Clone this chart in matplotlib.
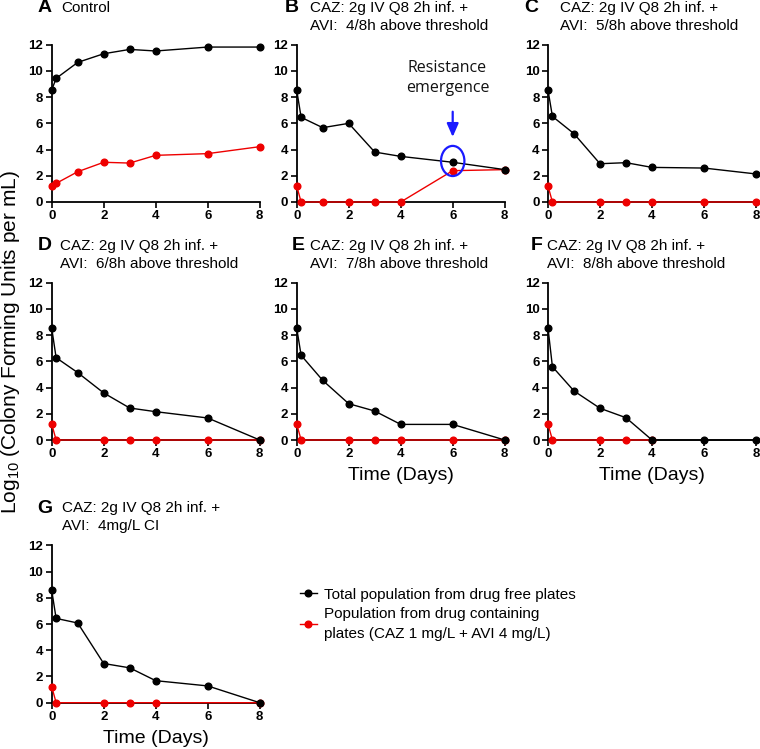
import matplotlib.pyplot as plt
from matplotlib.patches import Ellipse

plt.rcParams['font.family'] = ['Liberation Sans', 'DejaVu Sans']
plt.rcParams['mathtext.fontset'] = 'custom'
plt.rcParams['mathtext.rm'] = 'Liberation Sans'

# sampling times (days)
days = [0, 0.17, 1, 2, 3, 4, 6, 8]

letters = ['A', 'B', 'C', 'D', 'E', 'F', 'G']
titles = [
    'Control',
    'CAZ: 2g IV Q8 2h inf. +\nAVI:  4/8h above threshold',
    'CAZ: 2g IV Q8 2h inf. +\nAVI:  5/8h above threshold',
    'CAZ: 2g IV Q8 2h inf. +\nAVI:  6/8h above threshold',
    'CAZ: 2g IV Q8 2h inf. +\nAVI:  7/8h above threshold',
    'CAZ: 2g IV Q8 2h inf. +\nAVI:  8/8h above threshold',
    'CAZ: 2g IV Q8 2h inf. +\nAVI:  4mg/L CI',
]

# total population (drug free plates), log10 CFU/mL
total_A = [8.54, 9.43, 10.65, 11.31, 11.64, 11.52, 11.82, 11.82]
total_B = [8.54, 6.46, 5.67, 6.0, 3.81, 3.48, 3.03, 2.47]
total_C = [8.54, 6.53, 5.21, 2.92, 3.0, 2.64, 2.59, 2.14]
total_D = [8.54, 6.28, 5.14, 3.59, 2.44, 2.16, 1.68, 0]
total_E = [8.54, 6.46, 4.55, 2.77, 2.21, 1.19, 1.19, 0]
total_F = [8.54, 5.59, 3.74, 2.42, 1.70, 0, 0, 0]
total_G = [8.58, 6.43, 6.08, 2.99, 2.66, 1.68, 1.28, 0]

# resistant population (drug containing plates)
res_days_A = [0, 0.17, 1, 2, 3, 4, 6, 8]
res_A = [1.22, 1.42, 2.31, 3.03, 2.97, 3.56, 3.69, 4.22]
res_days_B = [0, 0.17, 1, 2, 3, 4, 6, 8]
res_B = [1.22, 0, 0, 0, 0, 0, 2.39, 2.47]
res_days_C = [0, 0.17, 2, 3, 4, 6, 8]
res_C = [1.22, 0, 0, 0, 0, 0, 0]
res_days_D = [0, 0.17, 2, 3, 4, 6, 8]
res_D = [1.22, 0, 0, 0, 0, 0, 0]
res_days_E = [0, 0.17, 2, 3, 4, 6, 8]
res_E = [1.22, 0, 0, 0, 0, 0, 0]
res_days_F = [0, 0.17, 2, 3, 4]
res_F = [1.22, 0, 0, 0, 0]
res_days_G = [0, 0.17, 2, 3, 4, 8]
res_G = [1.23, 0, 0, 0, 0, 0]

totals = [total_A, total_B, total_C, total_D, total_E, total_F, total_G]
res_days = [res_days_A, res_days_B, res_days_C, res_days_D, res_days_E, res_days_F, res_days_G]
res_vals = [res_A, res_B, res_C, res_D, res_E, res_F, res_G]

W, H = 760, 749
fig = plt.figure(figsize=(W / 100, H / 100), dpi=100)

# layout in pixels
lefts = [51.7, 296.7, 548, 51.7, 296.7, 548, 51.7]
zeros = [202, 202, 202, 440, 440, 440, 702.7]
ax_w, ax_h = 208, 157.3
letter_right = [52, 299, 538, 52, 305, 543, 52]
text_left = [61, 310, 560, 60, 310, 547, 62]


def fx(px):
    return px / W


def fy(py):
    return 1 - py / H


axes = []
for i in range(7):
    ax = fig.add_axes([fx(lefts[i]), fy(zeros[i]), ax_w / W, ax_h / H])
    axes.append(ax)
    ax.plot(res_days[i], res_vals[i], color='#ee0000', lw=1.0, marker='o',
            ms=4.8, clip_on=False, zorder=3,
            label='Population from drug containing\nplates (CAZ 1 mg/L + AVI 4 mg/L)')
    ax.plot(days, totals[i], color='black', lw=1.0, marker='o',
            ms=4.8, clip_on=False, zorder=4,
            label='Total population from drug free plates')
    ax.set_xlim(0, 8)
    ax.set_ylim(0, 12)
    ax.set_xticks([0, 2, 4, 6, 8])
    ax.set_yticks(range(0, 13, 2))
    for s in ['top', 'right']:
        ax.spines[s].set_visible(False)
    for s in ['left', 'bottom']:
        ax.spines[s].set_linewidth(1.3)
    ax.tick_params(direction='out', length=4, width=1.2, labelsize=9.5, pad=2)
    for lab in ax.get_xticklabels() + ax.get_yticklabels():
        lab.set_fontweight('bold')

    top = zeros[i] - ax_h
    fig.text(fx(letter_right[i]), fy(top - 37), letters[i], ha='right', va='center',
             fontsize=14, fontweight='bold')
    lines = titles[i].split('\n')
    for j, line in enumerate(lines):
        fig.text(fx(text_left[i]), fy(top - 37 + 18 * j), line, ha='left', va='center',
                 fontsize=11)

for i in [4, 5, 6]:
    axes[i].set_xlabel('Time (Days)', fontsize=14, labelpad=5)

# resistance emergence annotation on panel B
axB = axes[1]
axB.annotate('', xy=(6, 4.75), xytext=(6, 7.1),
             arrowprops=dict(arrowstyle='-|>,head_width=0.35,head_length=0.8',
                             color='#1a1aff', lw=1.6))
axB.add_patch(Ellipse((6, 3.13), 0.9, 2.3, fill=False, edgecolor='#1a1aff',
                      lw=1.6, clip_on=False, zorder=5))
axB.text(5.8, 9.45, 'Resistance\nemergence', ha='center', va='center',
         fontsize=11.5, color='#111111', family=['Open Sans', 'DejaVu Sans'],
         linespacing=1.3)

fig.text(fx(11), fy(342), 'Log$_{\\mathrm{10}}$ (Colony Forming Units per mL)',
         rotation=90, ha='center', va='center', fontsize=15)

handles, labels = axes[6].get_legend_handles_labels()
leg = fig.legend(handles[::-1], labels[::-1], loc='upper left',
                 bbox_to_anchor=(fx(286), fy(574)), frameon=False, fontsize=11,
                 handlelength=1.1, handletextpad=0.5, labelspacing=0.35)
for t in leg.get_texts():
    t.set_linespacing(1.55)

fig.savefig('out.png', dpi=100)
